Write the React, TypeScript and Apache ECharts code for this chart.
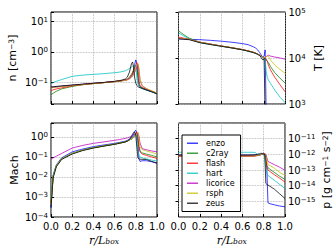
import React, { useEffect, useRef } from "react";
import * as echarts from "echarts";

const FONT = "DejaVu Sans";
const CODES = ["enzo", "c2ray", "flash", "hart", "licorice", "rsph", "zeus"];
const COLORS = ["#0000ff", "#008000", "#ff0000", "#00bfbf", "#bf00bf", "#bfbf00", "#000000"];

const X = [0, 0.02, 0.05, 0.1, 0.2, 0.3, 0.4, 0.5, 0.6, 0.65, 0.7, 0.72, 0.74, 0.76, 0.77, 0.78, 0.79, 0.8, 0.81, 0.82, 0.83, 0.84, 0.86, 0.9, 0.95, 1.0];
const X_TICKS = [0, 0.2, 0.4, 0.6, 0.8, 1.0];

// number density n [cm^-3]
const nEnzo = [0.07, 0.071, 0.073, 0.076, 0.082, 0.088, 0.094, 0.1, 0.108, 0.113, 0.12, 0.125, 0.135, 0.16, 0.19, 0.25, 0.4, 0.55, 0.42, 0.16, 0.085, 0.072, 0.066, 0.058, 0.05, 0.043];
const nC2ray = [0.04, 0.045, 0.052, 0.062, 0.075, 0.085, 0.093, 0.1, 0.108, 0.113, 0.12, 0.13, 0.15, 0.19, 0.22, 0.27, 0.32, 0.36, 0.3, 0.14, 0.085, 0.074, 0.067, 0.059, 0.051, 0.044];
const nFlash = [0.055, 0.058, 0.062, 0.067, 0.078, 0.086, 0.093, 0.1, 0.108, 0.113, 0.12, 0.128, 0.14, 0.17, 0.2, 0.25, 0.31, 0.38, 0.45, 0.3, 0.12, 0.08, 0.069, 0.06, 0.052, 0.045];
const nHart = [0.09, 0.1, 0.11, 0.125, 0.16, 0.175, 0.185, 0.195, 0.21, 0.22, 0.24, 0.26, 0.29, 0.32, 0.34, 0.36, 0.38, 0.32, 0.16, 0.09, 0.075, 0.07, 0.064, 0.057, 0.05, 0.043];
const nLicorice = [0.068, 0.07, 0.072, 0.075, 0.081, 0.087, 0.093, 0.1, 0.107, 0.112, 0.118, 0.124, 0.133, 0.15, 0.165, 0.19, 0.22, 0.27, 0.34, 0.4, 0.26, 0.12, 0.078, 0.063, 0.053, 0.045];
const nRsph = [0.066, 0.068, 0.071, 0.074, 0.08, 0.086, 0.092, 0.099, 0.106, 0.111, 0.117, 0.123, 0.132, 0.15, 0.165, 0.19, 0.23, 0.3, 0.38, 0.42, 0.3, 0.13, 0.08, 0.064, 0.054, 0.045];
const nZeus = [0.072, 0.073, 0.075, 0.078, 0.083, 0.089, 0.095, 0.101, 0.11, 0.116, 0.13, 0.15, 0.22, 0.42, 0.47, 0.3, 0.14, 0.095, 0.08, 0.074, 0.07, 0.068, 0.064, 0.057, 0.05, 0.043];

// temperature T [K]
const tEnzo = [26000, 26000, 25800, 25500, 25000, 24200, 23200, 22000, 20500, 19500, 17500, 16500, 15000, 13000, 12000, 11000, 10500, 11000, 15000, 500, 500, 500, 500, 500, 500, 500];
const tC2ray = [39000, 36000, 32000, 27000, 22000, 20000, 18200, 16700, 15200, 14300, 13300, 12800, 12200, 11500, 11100, 10800, 10400, 10000, 9700, 9000, 8500, 8000, 6500, 4800, 3600, 2800];
const tFlash = [28500, 28000, 27000, 25500, 22000, 20000, 18200, 16700, 15200, 14300, 13300, 12800, 12200, 11500, 11100, 10800, 10400, 10200, 10000, 9500, 8500, 7000, 5500, 3800, 2600, 1800];
const tHart = [35000, 33000, 30000, 26000, 21500, 19500, 18000, 16500, 15000, 14000, 13000, 12500, 12000, 11300, 11000, 10600, 10300, 10000, 9000, 5000, 3800, 3300, 2800, 2000, 1400, 1050];
const tLicorice = [27000, 26800, 26500, 25500, 22000, 20000, 18200, 16700, 15200, 14300, 13300, 12800, 12200, 11500, 11100, 10800, 10400, 10200, 10200, 10800, 11200, 11500, 11000, 10500, 10000, 9400];
const tRsph = [27000, 26800, 26500, 25500, 22000, 20000, 18200, 16700, 15200, 14300, 13300, 12800, 12200, 11500, 11100, 10800, 10400, 10200, 10200, 10600, 11000, 10800, 9000, 7000, 5600, 4600];
const tZeus = [26000, 25800, 25500, 25000, 21500, 19600, 18000, 16500, 15000, 14100, 13100, 12600, 12000, 11200, 10500, 9500, 9000, 9800, 600, 500, 500, 500, 500, 500, 500, 500];

// Mach number
const mEnzo = [0.0003, 0.012, 0.04, 0.09, 0.18, 0.25, 0.33, 0.4, 0.48, 0.54, 0.62, 0.68, 0.78, 0.95, 1.1, 1.4, 1.9, 2.2, 1.5, 0.5, 0.08, 0.06, 0.065, 0.065, 0.058, 0.048];
const mC2ray = [0.0005, 0.01, 0.035, 0.08, 0.15, 0.22, 0.29, 0.36, 0.44, 0.5, 0.57, 0.62, 0.7, 0.8, 0.88, 1.0, 1.2, 1.4, 1.6, 1.0, 0.35, 0.2, 0.16, 0.14, 0.12, 0.1];
const mFlash = [0.0005, 0.011, 0.036, 0.08, 0.15, 0.22, 0.29, 0.36, 0.44, 0.5, 0.57, 0.62, 0.7, 0.8, 0.88, 1.0, 1.2, 1.45, 1.8, 1.1, 0.3, 0.18, 0.14, 0.12, 0.1, 0.085];
const mHart = [0.0008, 0.012, 0.038, 0.08, 0.15, 0.22, 0.29, 0.36, 0.44, 0.5, 0.57, 0.62, 0.7, 0.82, 0.9, 1.05, 1.3, 1.5, 0.7, 0.2, 0.12, 0.1, 0.09, 0.08, 0.07, 0.063];
const mLicorice = [0.08, 0.09, 0.11, 0.15, 0.28, 0.38, 0.48, 0.57, 0.68, 0.75, 0.85, 0.9, 0.98, 1.08, 1.15, 1.25, 1.35, 1.45, 1.55, 1.6, 1.1, 0.5, 0.26, 0.23, 0.2, 0.18];
const mRsph = [0.0004, 0.01, 0.035, 0.08, 0.15, 0.22, 0.29, 0.36, 0.44, 0.5, 0.57, 0.62, 0.7, 0.8, 0.87, 0.97, 1.1, 1.3, 1.5, 1.7, 0.8, 0.32, 0.23, 0.2, 0.17, 0.14];
const mZeus = [0.0003, 0.009, 0.032, 0.075, 0.14, 0.21, 0.28, 0.35, 0.43, 0.49, 0.56, 0.62, 0.75, 1.1, 1.4, 1.7, 1.8, 1.2, 0.3, 0.09, 0.08, 0.078, 0.076, 0.075, 0.06, 0.05];

// pressure p [g cm^-1 s^-2]
const pEnzo = [9e-13, 9e-13, 9e-13, 9e-13, 9e-13, 9e-13, 9e-13, 9e-13, 9e-13, 9e-13, 9e-13, 9e-13, 9.2e-13, 9.5e-13, 1e-12, 1.05e-12, 1.1e-12, 1.2e-12, 1.1e-12, 9e-13, 1e-13, 8e-16, 7e-16, 6e-16, 5e-16, 4.5e-16];
const pC2ray = [8e-13, 8e-13, 8e-13, 8e-13, 8e-13, 8e-13, 8e-13, 8e-13, 8e-13, 8e-13, 8e-13, 8.2e-13, 8.5e-13, 9e-13, 9.5e-13, 1e-12, 1.05e-12, 1.1e-12, 1e-12, 5e-13, 2e-13, 1.4e-13, 1.1e-13, 7e-14, 4e-14, 2.5e-14];
const pFlash = [7.5e-13, 7.5e-13, 7.5e-13, 7.5e-13, 7.5e-13, 7.5e-13, 7.5e-13, 7.5e-13, 7.5e-13, 7.5e-13, 7.6e-13, 7.8e-13, 8.2e-13, 8.8e-13, 9.3e-13, 1e-12, 1.05e-12, 1.1e-12, 1.1e-12, 6e-13, 1.6e-13, 1e-13, 8e-14, 5e-14, 3e-14, 1.7e-14];
const pHart = [1.35e-12, 1.35e-12, 1.35e-12, 1.35e-12, 1.35e-12, 1.35e-12, 1.35e-12, 1.35e-12, 1.35e-12, 1.35e-12, 1.35e-12, 1.3e-12, 1e-12, 9e-13, 9.3e-13, 1e-12, 1.05e-12, 1e-12, 6e-13, 1.5e-13, 6e-14, 4.5e-14, 3.5e-14, 2.2e-14, 1.2e-14, 6.5e-15];
const pLicorice = [8e-13, 8e-13, 8e-13, 8e-13, 8e-13, 8e-13, 8e-13, 8e-13, 8e-13, 8e-13, 8e-13, 8.2e-13, 8.5e-13, 9e-13, 9.4e-13, 1e-12, 1.05e-12, 1.1e-12, 1.1e-12, 1e-12, 6e-13, 3.5e-13, 3e-13, 2.2e-13, 1.5e-13, 9.5e-14];
const pRsph = [7.8e-13, 7.8e-13, 7.8e-13, 7.8e-13, 7.8e-13, 7.8e-13, 7.8e-13, 7.8e-13, 7.8e-13, 7.8e-13, 7.8e-13, 8e-13, 8.4e-13, 9e-13, 9.4e-13, 1e-12, 1.05e-12, 1.1e-12, 1.1e-12, 9e-13, 4e-13, 2.2e-13, 1.9e-13, 1.3e-13, 7e-14, 4.5e-14];
const pZeus = [9e-13, 9e-13, 9e-13, 9e-13, 9e-13, 9e-13, 9e-13, 9e-13, 9e-13, 9e-13, 9.2e-13, 9.5e-13, 1e-12, 1.1e-12, 1.15e-12, 1.15e-12, 1.1e-12, 1.05e-12, 1e-12, 1.4e-14, 1.2e-14, 1.1e-14, 9e-15, 6e-15, 3e-15, 1.5e-15];

const PANELS = [
  [nEnzo, nC2ray, nFlash, nHart, nLicorice, nRsph, nZeus],
  [tEnzo, tC2ray, tFlash, tHart, tLicorice, tRsph, tZeus],
  [mEnzo, mC2ray, mFlash, mHart, mLicorice, mRsph, mZeus],
  [pEnzo, pC2ray, pFlash, pHart, pLicorice, pRsph, pZeus],
];

const Y_MIN = [0.02, 1e3, 1e-4, 1e-16];
const Y_MAX = [20, 1e5, 5, 1e-10];
const Y_NAMES = [
  "{a|n [cm}{b|\u22123}{a|]}",
  "{a|T [K]}",
  "{a|Mach}",
  "{a|p [g cm}{b|\u22121}{a| s}{b|\u22122}{a|]}",
];

function expLabel(v: number): string {
  const l = Math.log10(v);
  const e = Math.round(l);
  if (Math.abs(l - e) > 1e-6) return "";
  const s = e < 0 ? "\u2212" + -e : String(e);
  return `{a|10}{b|${s}}`;
}

const tickRich = {
  a: { fontSize: 10, fontFamily: FONT, color: "#000", lineHeight: 10, verticalAlign: "bottom" },
  b: { fontSize: 7, fontFamily: FONT, color: "#000", lineHeight: 7, padding: [0, 0, 7, 0], verticalAlign: "top" },
};
const nameRich = {
  a: { fontSize: 11, fontFamily: FONT, color: "#000", lineHeight: 11, verticalAlign: "bottom" },
  b: { fontSize: 7.5, fontFamily: FONT, color: "#000", lineHeight: 8, padding: [0, 0, 6, 0], verticalAlign: "top" },
};
const xNameRich = {
  i: { fontSize: 11, fontFamily: "DejaVu Serif", fontStyle: "italic", color: "#000", lineHeight: 11, verticalAlign: "top" },
  s: { fontSize: 7.5, fontFamily: "DejaVu Serif", fontStyle: "italic", color: "#000", lineHeight: 8, padding: [6, 0, 0, 0], verticalAlign: "bottom" },
};

export default function App() {
  const ref = useRef<HTMLDivElement>(null);
  useEffect(() => {
    if (!ref.current) return;
    const chart = echarts.init(ref.current, null, { renderer: "svg" });
    const gridPos = [
      { left: 51, top: 12, width: 106, height: 92 },
      { left: 178.5, top: 12, width: 107, height: 92 },
      { left: 51, top: 123, width: 106, height: 94 },
      { left: 178.5, top: 123, width: 107, height: 94 },
    ];
    const split = { show: true, lineStyle: { color: "#aaaaaa", type: "dotted", width: 0.8 } };
    const xAxis = gridPos.map((_, i) => ({
      gridIndex: i,
      type: "value",
      min: X_TICKS[0],
      max: X_TICKS[X_TICKS.length - 1],
      interval: 0.2,
      axisLine: { show: false },
      axisTick: { show: true, inside: true, length: 3, lineStyle: { color: "#000" } },
      splitLine: split,
      axisLabel: {
        show: i >= 2,
        formatter: (v: number) => v.toFixed(1),
        fontSize: 10,
        fontFamily: FONT,
        color: "#000",
        margin: 4,
      },
      name: i >= 2 ? "{i|r/L}{s|box}" : "",
      nameLocation: "middle",
      nameGap: 15,
      nameTextStyle: { rich: xNameRich },
    }));
    const yAxis = gridPos.map((_, i) => {
      const right = i % 2 === 1;
      return {
        gridIndex: i,
        type: "log",
        logBase: 10,
        min: Y_MIN[i],
        max: Y_MAX[i],
        position: right ? "right" : "left",
        axisLine: { show: false },
        axisTick: { show: true, inside: true, length: 3, lineStyle: { color: "#000" } },
        splitLine: split,
        axisLabel: {
          formatter: expLabel,
          rich: tickRich,
          margin: 3,
          showMinLabel: i !== 3,
          showMaxLabel: i !== 3,
        },
        name: Y_NAMES[i],
        nameLocation: "middle",
        nameRotate: 90,
        nameGap: [30, 27, 31, 36][i],
        nameTextStyle: { rich: nameRich },
      };
    });
    const series: any[] = [];
    PANELS.forEach((panel, q) => {
      panel.forEach((arr, c) => {
        series.push({
          type: "line",
          name: CODES[c],
          xAxisIndex: q,
          yAxisIndex: q,
          data: X.map((x, k) => [x, arr[k]]),
          showSymbol: false,
          symbol: "none",
          clip: true,
          lineStyle: { width: 1, color: COLORS[c], opacity: 0.75 },
          itemStyle: { color: COLORS[c], opacity: 0.75 },
        });
      });
    });
    chart.setOption({
      animation: false,
      backgroundColor: "#fff",
      textStyle: { fontFamily: FONT },
      grid: gridPos.map((g) => ({ ...g, show: true, borderColor: "#000", borderWidth: 1, backgroundColor: "transparent" })),
      xAxis,
      yAxis,
      legend: {
        data: CODES.map((name) => ({ name, icon: "rect" })),
        orient: "vertical",
        left: 182,
        top: 135,
        backgroundColor: "#fff",
        borderColor: "#000",
        borderWidth: 1,
        padding: [4, 6, 4, 5],
        itemGap: 1.5,
        itemWidth: 11,
        itemHeight: 1.5,
        textStyle: { fontSize: 8, fontFamily: FONT, color: "#000", padding: [0, 0, 0, 3], lineHeight: 8.5 },
      },
      series,
    });
    return () => chart.dispose();
  }, []);
  return <div ref={ref} style={{ position: "fixed", left: 0, top: 0, width: 336, height: 252 }} />;
}
